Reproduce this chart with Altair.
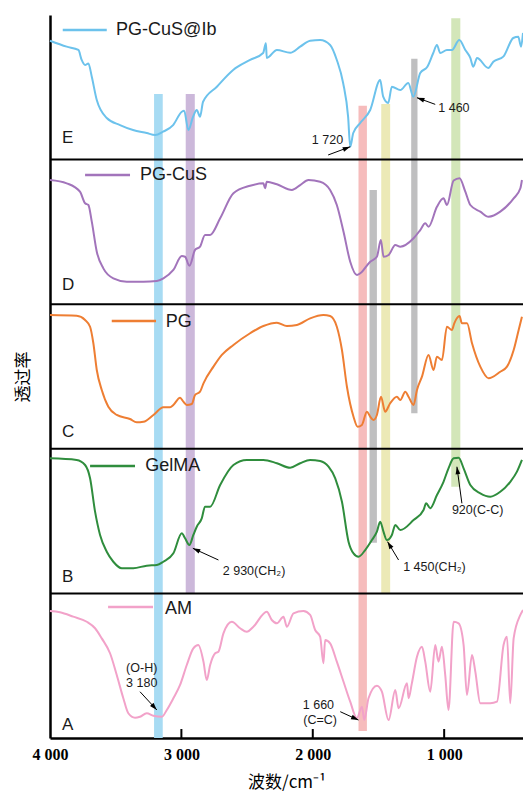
import altair as alt
import pandas as pd

# ---------------- spectra (wavenumber, relative transmittance within panel) ----------------
E_wn = [4000,3873,3784,3759,3733,3708,3682,3644,3568,3467,3368,3264,3200,3139,3063,2997,2979,2947,2911,2883,
        2858,2835,2730,2606,2477,2378,2357,2350,2273,2172,2096,2020,1944,1868,1817,1769,1731,1715,1692,1639,
        1563,1487,1464,1426,1398,1334,1273,1235,1182,1128,1083,1055,1030,979,941,885,839,801,778,750,
        664,626,550,474,436,415,400]
E_tr = [82.2,78.1,75.8,68.9,65.4,66.5,57.3,41.2,28.8,23.9,20.5,18.4,17.0,19.3,23.9,33.1,33.8,20.5,29.7,34.3,
        29.7,40.0,50.4,62.0,68.9,73.7,80.4,70.3,75.8,73.9,78.1,82.2,82.7,79.3,68.9,53.0,29.5,8.9,18.4,25.3,
        34.3,55.0,43.5,39.1,50.4,48.1,53.0,43.5,59.9,64.2,73.7,79.3,73.7,75.8,75.8,82.7,75.8,70.3,64.2,70.3,
        63.3,67.7,71.2,84.1,85.0,78.1,87.6]

D_wn = [4000,3873,3772,3733,3708,3682,3644,3594,3518,3416,3289,3187,3137,3061,2997,2972,2939,2896,2858,2820,
        2781,2705,2604,2477,2376,2363,2350,2273,2159,2096,2033,1944,1868,1817,1766,1715,1664,1639,1563,1512,
        1482,1461,1423,1372,1334,1233,1182,1144,1119,1055,1005,979,928,883,839,801,725,662,573,471,
        420,408]
D_tr = [85.9,83.6,77.8,69.8,68.6,57.1,36.3,24.8,17.9,15.6,15.6,16.0,17.9,23.7,33.3,32.8,26.6,37.5,39.8,47.9,
        47.9,59.4,76.7,81.9,83.6,80.2,84.7,82.9,79.0,82.4,85.9,84.7,79.0,68.6,50.1,29.4,20.2,21.4,29.4,32.8,
        44.4,32.8,34.0,40.9,39.8,45.6,51.3,55.9,53.6,67.4,73.2,68.6,85.5,87.1,77.8,68.6,64.0,60.5,64.0,73.2,
        80.2,85.9]

C_wn = [4000,3797,3733,3695,3670,3644,3606,3556,3492,3391,3340,3289,3213,3137,3086,3061,3010,2985,2959,2921,
        2896,2858,2832,2756,2692,2604,2477,2376,2273,2197,2121,2020,1919,1868,1817,1778,1740,1690,1659,1626,
        1588,1563,1538,1512,1481,1449,1411,1360,1334,1296,1271,1233,1207,1169,1119,1081,1055,1017,979,941,
        923,883,865,826,788,725,662,573,522,471,433,408]
C_tr = [92.5,92.0,89.1,84.4,73.0,54.5,40.7,29.1,23.4,20.6,18.3,18.7,23.4,28.7,28.7,30.3,35.3,32.6,30.3,31.0,
        37.2,39.5,45.3,56.8,64.9,71.8,79.9,84.9,87.2,84.9,85.6,90.2,92.5,91.8,84.4,68.3,42.9,22.2,15.3,16.5,
        25.7,22.2,19.9,23.4,36.0,25.7,31.5,36.0,33.7,39.5,36.0,30.3,40.7,49.9,64.9,54.5,63.7,61.4,84.4,82.2,
        86.8,91.8,86.8,86.8,73.0,56.8,48.8,53.3,56.8,68.3,82.2,91.4]

B_wn = [4000,3797,3733,3695,3657,3619,3568,3518,3454,3366,3264,3187,3137,3061,2997,2972,2939,2909,2883,2845,
        2820,2781,2705,2604,2502,2376,2273,2172,2096,2020,1944,1880,1829,1778,1728,1690,1652,1601,1550,1512,
        1487,1462,1436,1398,1372,1334,1233,1157,1137,1106,1055,1005,967,928,890,852,801,725,649,573,
        497,446,408]
B_tr = [93.4,92.3,88.8,79.6,56.5,40.4,28.8,21.9,17.4,17.4,19.2,19.6,21.9,27.7,41.6,38.1,33.5,40.4,46.1,51.9,
        60.0,60.0,75.0,88.8,92.3,92.3,90.0,86.9,90.0,92.3,91.6,87.6,79.6,63.4,35.8,27.7,25.4,30.0,36.9,42.7,
        49.6,42.7,36.9,40.4,47.3,43.8,50.7,57.7,62.3,58.9,68.0,77.2,86.5,93.4,93.8,86.5,75.0,69.2,66.9,70.3,
        77.2,84.2,92.3]

A_wn = [4000,3924,3823,3720,3657,3606,3543,3492,3442,3404,3353,3315,3264,3213,3149,3111,3061,3010,2959,2909,
        2871,2832,2807,2781,2743,2718,2680,2616,2553,2502,2452,2350,2312,2273,2223,2197,2147,2071,2020,1982,
        1944,1919,1906,1868,1817,1766,1715,1664,1626,1608,1576,1512,1474,1423,1372,1347,1283,1271,1246,1207,
        1169,1144,1106,1068,1043,1017,992,967,928,890,852,827,788,763,725,649,598,548,522,497,
        471,420,400]
A_tr = [87.8,86.9,83.9,80.4,75.9,68.9,58.6,43.6,27.5,17.1,14.0,14.7,17.1,15.4,14.7,19.4,27.5,36.7,50.5,62.0,
        64.3,52.8,40.1,50.5,58.6,59.7,72.4,80.4,75.9,73.5,77.0,87.3,81.6,79.3,83.9,77.0,86.2,87.8,85.1,74.7,
        70.1,51.7,67.8,65.5,52.8,38.9,25.1,13.6,21.6,12.4,27.5,36.2,32.0,12.4,33.2,20.5,37.8,27.5,37.8,56.2,
        63.1,52.8,32.0,64.3,52.8,63.1,43.6,19.4,80.4,79.3,64.3,29.7,57.4,45.9,24.0,24.0,25.1,64.3,70.1,24.0,
        69.0,85.1,88.5]

series_names = ["AM", "GelMA", "PG", "PG-CuS", "PG-CuS@Ib"]
panel_letters = ["A", "B", "C", "D", "E"]
series_colors = ["#f2a2c9", "#2f8d3d", "#ee7e33", "#a274bb", "#6cc2ec"]

# ---------------- layout (positions kept separate from data) ----------------
panel_offsets = [0, 100, 200, 300, 400]
separators = [100, 200, 300, 400]

band_lo = [3142, 2898, 1588, 1411, 1203, 1512, 877]
band_hi = [3208, 2967, 1652, 1479, 1251, 1568, 946]
band_ylo = [0, 100, 4.8, 100, 224.6, 135, 173.8]
band_yhi = [445.4, 445.4, 437.3, 438.5, 469.7, 379, 497.7]
band_colors = ["#a7dbf3", "#ccb8da", "#f6bcbc", "#ece9b6", "#bfbfc0", "#bfbfc0", "#d3e6b9"]

legend_x1 = [3558, 3695, 3530, 3733, 3903]
legend_x2 = [3216, 3353, 3193, 3391, 3568]
legend_y = [90.6, 188.1, 288.4, 389.3, 489.6]
legend_tx = [3124, 3276, 3119, 3315, 3497]
legend_ty = [89.2, 188.1, 287.7, 389.3, 489.6]

letter_x = 3909
letter_y = [9.0, 111.3, 211.8, 313.3, 415.0]

annot_text = ["1 720", "1 460", "2 930(CH\u2082)", "1 450(CH\u2082)", "920(C-C)", "(O-H)", "3 180", "1 660", "(C=C)"]
annot_x = [2007, 1045, 2685, 1312, 941, 3302, 3302, 1957, 1944]
annot_y = [413.6, 435.7, 115.5, 118.5, 157.7, 48.4, 38.0, 22.5, 12.4]
annot_align = ["left", "left", "left", "left", "left", "center", "center", "center", "center"]

arrow_tail_x = [1883, 1068, 2718, 1347, 865, 3315, 1791]
arrow_tail_y = [403.2, 438.2, 123.1, 123.1, 162.3, 32.0, 18.2]
arrow_head_x = [1715, 1207, 2913, 1431, 903, 3187, 1652]
arrow_head_y = [408.9, 442.8, 131.2, 135.8, 187.6, 19.4, 12.4]
arrow_angle = [69.3, 289.8, 294.6, 329.0, 352.2, 137.6, 114.4]

tick_values = [3000, 2000, 1000]

# ---------------- tables ----------------
all_wn = [A_wn, B_wn, C_wn, D_wn, E_wn]
all_tr = [A_tr, B_tr, C_tr, D_tr, E_tr]
rows = []
for name, wn, tr, off in zip(series_names, all_wn, all_tr, panel_offsets):
    for w, t in zip(wn, tr):
        rows.append({"series": name, "w": w, "t": t, "off": off})
spec = pd.DataFrame(rows)

bands = pd.DataFrame({"w": band_lo, "w2": band_hi, "y": band_ylo, "y2": band_yhi, "c": band_colors})
seps = pd.DataFrame({"y": separators})
ticks = pd.DataFrame({"w": tick_values, "y": [0] * 3, "y2": [6.2] * 3})
leg = pd.DataFrame({"series": series_names, "w": legend_x1, "w2": legend_x2, "y": legend_y,
                    "tw": legend_tx, "ty": legend_ty})
letters = pd.DataFrame({"label": panel_letters, "w": [letter_x] * 5, "y": letter_y})
annots = pd.DataFrame({"label": annot_text, "w": annot_x, "y": annot_y, "al": annot_align})
arrows = pd.DataFrame({"w": arrow_tail_x, "y": arrow_tail_y, "w2": arrow_head_x, "y2": arrow_head_y,
                       "ang": arrow_angle})

# ---------------- encodings ----------------
xscale = alt.Scale(domain=[400, 4000], reverse=True, nice=False, zero=False)
yscale = alt.Scale(domain=[0, 500], nice=False, zero=False)
xaxis = alt.Axis(title="波数/cm\u207b\u00b9", values=[4000, 3000, 2000, 1000],
                 labelExpr="replace(format(datum.value, ','), ',', ' ')",
                 labelFont="Liberation Serif", labelFontWeight="bold", labelFontSize=16,
                 labelColor="black", labelPadding=8, labelFlush=False, ticks=False, grid=False,
                 domainColor="black", domainWidth=2.5,
                 titleFont="Noto Sans CJK SC", titleFontSize=17, titleFontWeight="normal",
                 titleColor="black", titlePadding=12)
yaxis = alt.Axis(title="透过率", labels=False, ticks=False, grid=False,
                 domainColor="black", domainWidth=2.5,
                 titleFont="Noto Sans CJK SC", titleFontSize=17, titleFontWeight="normal",
                 titleColor="black", titlePadding=18)

X = alt.X("w:Q", scale=xscale, axis=xaxis)
Y = alt.Y("y:Q", scale=yscale, axis=yaxis)
color = alt.Color("series:N", scale=alt.Scale(domain=series_names, range=series_colors), legend=None)

band_layer = alt.Chart(bands).mark_rect().encode(
    x=X, x2="w2:Q", y=Y, y2="y2:Q", color=alt.Color("c:N", scale=None))

sep_layer = alt.Chart(seps).mark_rule(color="black", strokeWidth=2).encode(y=Y)

tick_layer = alt.Chart(ticks).mark_rule(color="black", strokeWidth=2).encode(x=X, y=Y, y2="y2:Q")

line_layer = alt.Chart(spec).transform_calculate(y="datum.t + datum.off").mark_line(
    strokeWidth=2, strokeJoin="round", interpolate="monotone").encode(
    x=X, y=Y, color=color, detail="series:N")

leg_line = alt.Chart(leg).mark_rule(strokeWidth=2.5).encode(x=X, x2="w2:Q", y=Y, color=color)
leg_text = alt.Chart(leg).mark_text(align="left", baseline="middle", font="Liberation Sans",
                                    fontSize=18, color="#1a1a1a").encode(
    x=alt.X("tw:Q", scale=xscale, axis=xaxis), y=alt.Y("ty:Q", scale=yscale, axis=yaxis), text="series:N")

letter_layer = alt.Chart(letters).mark_text(align="left", baseline="middle", font="Liberation Sans",
                                            fontSize=17, color="#1a1a1a").encode(x=X, y=Y, text="label:N")

annot_left = alt.Chart(annots).transform_filter("datum.al == 'left'").mark_text(
    align="left", baseline="middle", font="Liberation Sans", fontSize=12.5, color="#1a1a1a").encode(
    x=X, y=Y, text="label:N")
annot_center = alt.Chart(annots).transform_filter("datum.al == 'center'").mark_text(
    align="center", baseline="middle", font="Liberation Sans", fontSize=12.5, color="#1a1a1a").encode(
    x=X, y=Y, text="label:N")

arrow_shaft = alt.Chart(arrows).mark_rule(color="black", strokeWidth=1).encode(
    x=X, x2="w2:Q", y=Y, y2="y2:Q")
arrow_head = alt.Chart(arrows).mark_point(shape="M0,0L-0.32,1L0.32,1Z", filled=True, color="black",
                                          size=225, opacity=1).encode(
    x=alt.X("w2:Q", scale=xscale, axis=xaxis), y=alt.Y("y2:Q", scale=yscale, axis=yaxis),
    angle=alt.Angle("ang:Q", scale=None))

chart = alt.layer(
    band_layer, sep_layer, tick_layer, line_layer, leg_line, leg_text, letter_layer,
    annot_left, annot_center, arrow_shaft, arrow_head
).properties(
    width=473, height=723,
    padding={"left": 50, "top": 15, "right": 0, "bottom": 57},
    autosize=alt.AutoSizeParams(type="none"),
    background="white",
).configure_view(stroke=None)

chart.save("out.html", embed_options={"renderer": "svg", "actions": False})
